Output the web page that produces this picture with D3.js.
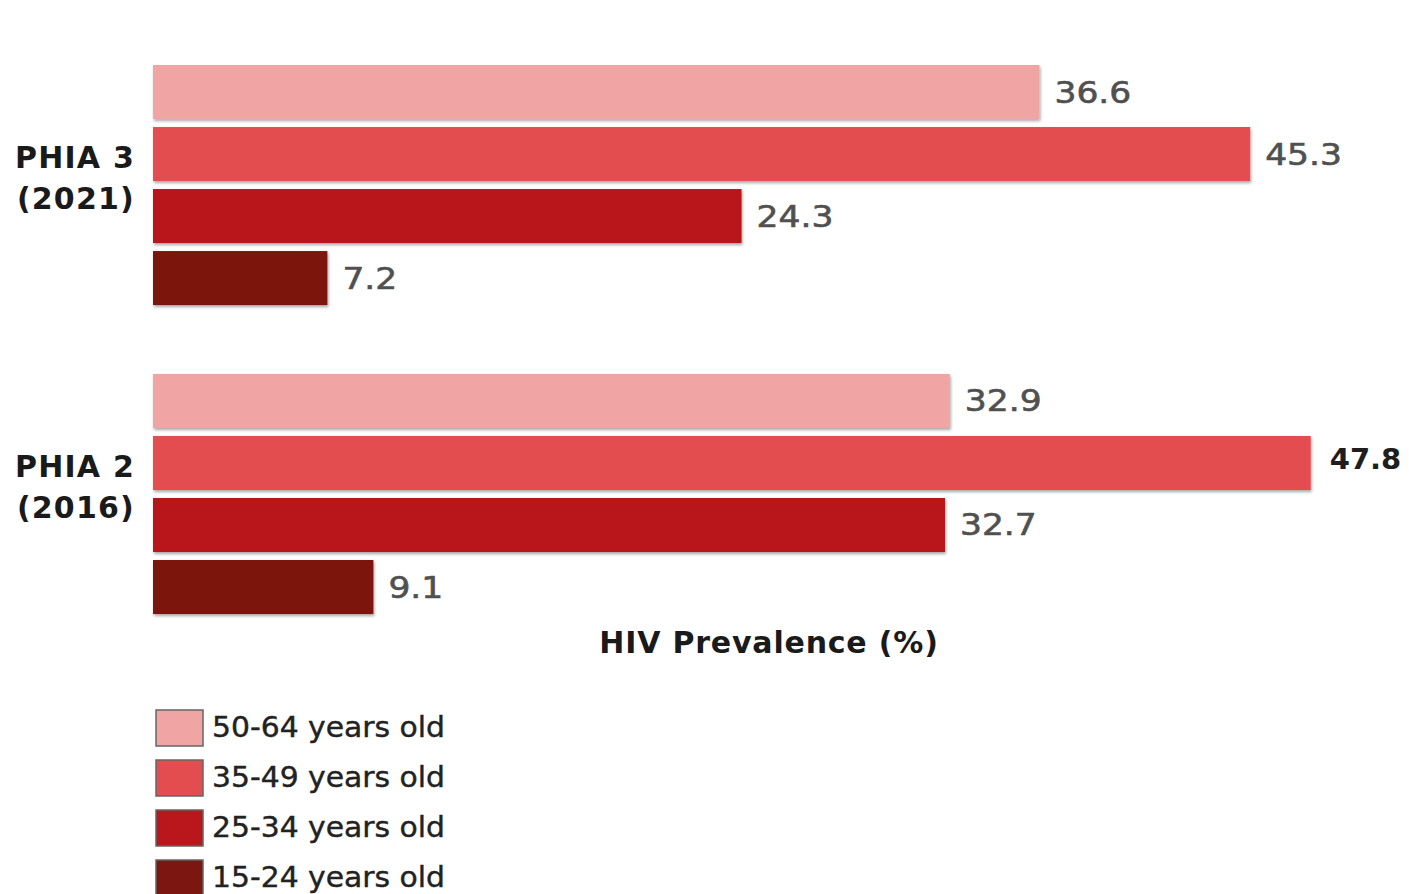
<!DOCTYPE html>
<html><head><meta charset="utf-8">
<script src="https://cdn.jsdelivr.net/npm/d3@7"></script>
<style>html,body{margin:0;padding:0;background:#fff;}svg{display:block;}</style>
</head><body>
<svg id="chart" width="1409" height="894"></svg>
<script>
const groups = ["PHIA 3 (2021)", "PHIA 2 (2016)"];
const groupLines = [["PHIA 3", "(2021)"], ["PHIA 2", "(2016)"]];
const series = ["50-64 years old", "35-49 years old", "25-34 years old", "15-24 years old"];
const colors = ["#f0a4a4", "#e44d4f", "#b9171b", "#7b1610"];
const valuesPHIA3 = [36.6, 45.3, 24.3, 7.2];
const valuesPHIA2 = [32.9, 47.8, 32.7, 9.1];
const allValues = [valuesPHIA3, valuesPHIA2];
const axisTitle = "HIV Prevalence (%)";

const svg = d3.select("#chart");
const font = "'DejaVu Sans', Verdana, sans-serif";

const defs = svg.append("defs");
const f = defs.append("filter").attr("id","shadow").attr("x","-5%").attr("y","-20%").attr("width","110%").attr("height","150%");
f.append("feDropShadow").attr("dx",1).attr("dy",2).attr("stdDeviation",1.5).attr("flood-color","#000").attr("flood-opacity",0.35);

const x = d3.scaleLinear().domain([0, 50]).range([153, 1364]);
const y0 = d3.scaleBand().domain(groups).range([65, 614]).paddingInner(0.223).paddingOuter(0);
const y1 = d3.scaleBand().domain(series).range([0, y0.bandwidth()]).paddingInner(0.129).paddingOuter(0);
const color = d3.scaleOrdinal().domain(series).range(colors);
const maxV = d3.max(allValues.flat());

groups.forEach((g, gi) => {
  const gg = svg.append("g").attr("transform", `translate(0,${y0(g)})`);
  const data = series.map((s, i) => ({s, v: allValues[gi][i]}));
  gg.selectAll("rect").data(data).join("rect")
    .attr("x", x(0)).attr("y", d => y1(d.s))
    .attr("width", d => x(d.v) - x(0)).attr("height", y1.bandwidth())
    .attr("fill", d => color(d.s)).attr("filter","url(#shadow)");
  gg.selectAll("text.val").data(data).join("text").attr("class","val")
    .attr("transform", d => {
      const tx = x(d.v) + (d.v === maxV ? 19 : 15);
      const ty = y1(d.s) + y1.bandwidth()/2;
      return `translate(${tx},${ty}) scale(${d.v === maxV ? 1 : 1.15},1)`;
    })
    .attr("dy", d => d.v === maxV ? "0.2em" : "0.35em")
    .attr("font-family", font)
    .attr("font-size", d => d.v === maxV ? 29 : 30)
    .attr("font-weight", d => d.v === maxV ? "bold" : "normal")
    .attr("fill", d => d.v === maxV ? "#1e1e1e" : "#505050")
    .attr("stroke", d => d.v === maxV ? "none" : "#505050")
    .attr("stroke-width", 0.6)
    .text(d => d3.format(".1f")(d.v));
  const cy = y0(g) + y0.bandwidth()/2;
  const t = svg.append("text").attr("text-anchor","end")
    .attr("font-family", font).attr("font-size", 30).attr("font-weight","bold")
    .attr("letter-spacing", 1.2).attr("fill","#1a1a1a");
  groupLines[gi].forEach((line, li) => {
    t.append("tspan").attr("x", 135).attr("y", cy - 28 + li*41 + 11).text(line);
  });
});

svg.append("text").attr("x", 769).attr("y", 642).attr("dy","0.35em")
  .attr("text-anchor","middle").attr("font-family", font).attr("font-size", 30)
  .attr("letter-spacing", 0.8)
  .attr("font-weight","bold").attr("fill","#1a1a1a").text(axisTitle);

const legend = svg.append("g");
series.forEach((s, i) => {
  const ly = 710 + i*50;
  legend.append("rect").attr("x",156).attr("y",ly).attr("width",47).attr("height",36)
    .attr("fill", color(s)).attr("stroke","#666").attr("stroke-width",1.5);
  legend.append("text").attr("transform", `translate(212,${ly+17}) scale(1.065,1)`).attr("dy","0.35em")
    .attr("font-family", font).attr("font-size", 28)
    .attr("fill","#222").attr("stroke","#222").attr("stroke-width",0.4).text(s);
});
</script>
</body></html>
